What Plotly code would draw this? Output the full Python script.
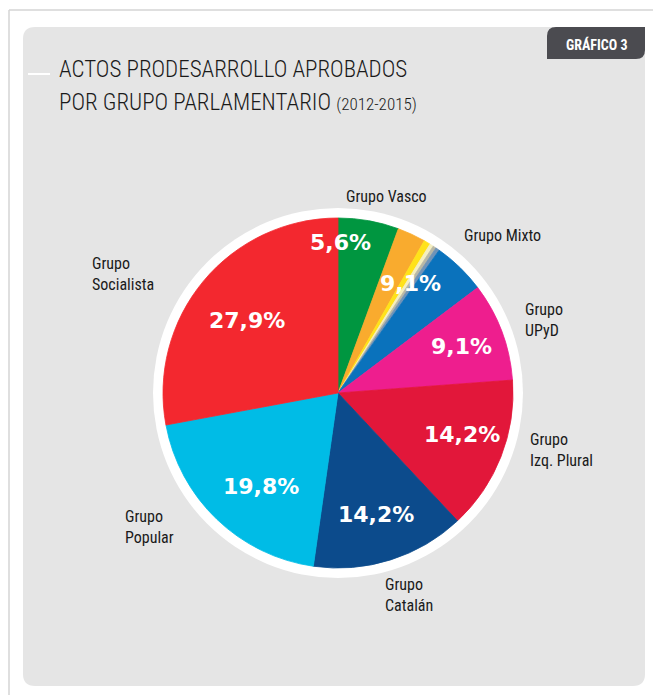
import math
import plotly.graph_objects as go

# ---- data ----
groups = ["Grupo Vasco", "Grupo Mixto", "Grupo UPyD", "Grupo Izq. Plural",
          "Grupo Catalán", "Grupo Popular", "Grupo Socialista"]
shares = [5.6, 9.1, 9.1, 14.2, 14.2, 19.8, 27.9]
# Grupo Mixto is drawn as a stripe of several colours (parts sum to its share)
mixto_parts = [2.6, 0.6, 0.35, 0.3, 0.35, 4.9]
mixto_colors = ["#f9ab2e", "#ffe21a", "#f4eec0", "#b9b8a6", "#6f93b8", "#0a72bc"]
group_colors = ["#009640", None, "#ee1e8e", "#e2173a", "#0c4b8c", "#00bce6", "#f3282f"]
label_lines = [["Grupo Vasco"], ["Grupo Mixto"], ["Grupo", "UPyD"], ["Grupo", "Izq. Plural"],
               ["Grupo", "Catalán"], ["Grupo", "Popular"], ["Grupo", "Socialista"]]

# page is offset 8px by the browser's body margin
OFF = 8
W, H = 653, 687
CX, CY, R = 338, 393, 175

def px(x):
    return (x - OFF) / W

def py(y):
    return 1 - (y - OFF) / H

values, colors = [], []
for g, s, c in zip(groups, shares, group_colors):
    if g == "Grupo Mixto":
        values += mixto_parts
        colors += mixto_colors
    else:
        values.append(s)
        colors.append(c)

fig = go.Figure()
fig.add_trace(go.Pie(
    values=values, sort=False, direction="clockwise", rotation=0,
    marker=dict(colors=colors, line=dict(width=0.8, color=colors)),
    textinfo="none", hoverinfo="skip", showlegend=False,
    domain=dict(x=[px(CX - R), px(CX + R)], y=[py(CY + R), py(CY - R)]),
))

shapes = []
shapes.append(dict(type="line", xref="paper", yref="paper", x0=px(9), x1=1, y0=py(10), y1=py(10),
                   line=dict(color="#d4d4d4", width=1.5), layer="below"))
shapes.append(dict(type="line", xref="paper", yref="paper", x0=px(9), x1=px(9), y0=py(10), y1=0,
                   line=dict(color="#d4d4d4", width=1.5), layer="below"))

def rrect(x0, y0, x1, y1, r, corners=(True, True, True, True)):
    tl, tr, br, bl = corners
    p = [f"M{px(x0 + (r if tl else 0))},{py(y0)}", f"L{px(x1 - (r if tr else 0))},{py(y0)}"]
    if tr:
        p.append(f"Q{px(x1)},{py(y0)} {px(x1)},{py(y0 + r)}")
    p.append(f"L{px(x1)},{py(y1 - (r if br else 0))}")
    if br:
        p.append(f"Q{px(x1)},{py(y1)} {px(x1 - r)},{py(y1)}")
    p.append(f"L{px(x0 + (r if bl else 0))},{py(y1)}")
    if bl:
        p.append(f"Q{px(x0)},{py(y1)} {px(x0)},{py(y1 - r)}")
    p.append(f"L{px(x0)},{py(y0 + (r if tl else 0))}")
    if tl:
        p.append(f"Q{px(x0)},{py(y0)} {px(x0 + r)},{py(y0)}")
    p.append("Z")
    return " ".join(p)

shapes.append(dict(type="path", xref="paper", yref="paper", path=rrect(23, 27, 645, 686, 12),
                   fillcolor="#e5e5e5", line=dict(width=0), layer="below"))
shapes.append(dict(type="path", xref="paper", yref="paper",
                   path=rrect(547, 27, 645, 59, 9, corners=(True, False, True, False)),
                   fillcolor="#4b4b50", line=dict(width=0), layer="below"))
shapes.append(dict(type="line", xref="paper", yref="paper", x0=px(28), x1=px(50), y0=py(74), y1=py(74),
                   line=dict(color="#ffffff", width=2), layer="below"))
shapes.append(dict(type="circle", xref="paper", yref="paper",
                   x0=px(CX - R - 10), x1=px(CX + R + 10), y0=py(CY + R + 10), y1=py(CY - R - 10),
                   fillcolor="#ffffff", line=dict(width=0), layer="below"))

ann = []
TF = "Roboto Condensed, Liberation Sans Narrow, DejaVu Sans Condensed, sans-serif"
ann.append(dict(x=px(57), y=py(69), xref="paper", yref="paper", xanchor="left", yanchor="middle",
                text="ACTOS PRODESARROLLO APROBADOS", showarrow=False,
                font=dict(family=TF, size=23, weight=300, color="#1a1a1a")))
ann.append(dict(x=px(57), y=py(102), xref="paper", yref="paper", xanchor="left", yanchor="middle",
                text="POR GRUPO PARLAMENTARIO <span style='font-size:17px'>(2012-2015)</span>",
                showarrow=False, font=dict(family=TF, size=23, weight=300, color="#1a1a1a")))
ann.append(dict(x=px(596), y=py(44), xref="paper", yref="paper", xanchor="center", yanchor="middle",
                text="<b>GRÁFICO 3</b>", showarrow=False,
                font=dict(family=TF, size=14, color="#ffffff")))

radius_px = [151, 131, 132, 131, 127, 121, 116]
angle_shift = [-9, -3, 0, -3, 0, -4, -1]
cum = 0.0
for i, s in enumerate(shares):
    mid = (cum + s / 2) / 100 * 360 + angle_shift[i]
    cum += s
    a = math.radians(mid)
    x = CX + radius_px[i] * math.sin(a)
    y = CY - radius_px[i] * math.cos(a)
    ann.append(dict(x=px(x), y=py(y), xref="paper", yref="paper", xanchor="center", yanchor="middle",
                    text=f"<b>{s:.1f}%</b>".replace(".", ","), showarrow=False,
                    font=dict(family="DejaVu Sans, sans-serif", size=22, color="#ffffff")))

label_pos = [(386, 197, "center"), (502, 235, "center"), (523, 320, "left"), (528, 450, "left"),
             (383, 595, "left"), (123, 527, "left"), (90, 274, "left")]
for lines, (x, y, al) in zip(label_lines, label_pos):
    ann.append(dict(x=px(x), y=py(y), xref="paper", yref="paper", xanchor=al, yanchor="middle",
                    text="<br>".join(lines), align=al, showarrow=False,
                    font=dict(family=TF, size=16, color="#1a1a1a")))

fig.update_layout(width=W, height=H, margin=dict(l=0, r=0, t=0, b=0),
                  paper_bgcolor="#ffffff", plot_bgcolor="#ffffff",
                  shapes=shapes, annotations=ann)
fig.write_html("out.html")
